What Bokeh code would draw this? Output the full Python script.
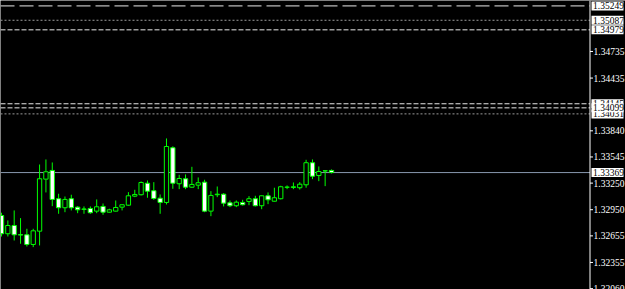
from bokeh.plotting import figure
from bokeh.models import Range1d, ColumnDataSource
from bokeh.core.properties import value
from bokeh.embed import file_html
from bokeh.resources import INLINE

# OHLC values (one entry per bar, oldest first)
opens = [1.32885, 1.32679, 1.32772, 1.32668, 1.32667, 1.32558, 1.32708, 1.33295, 1.33393, 1.33074,
         1.32972, 1.33074, 1.32979, 1.32958, 1.32964, 1.32934, 1.32987, 1.32922, 1.32934, 1.32979,
         1.33001, 1.33103, 1.33119, 1.33249, 1.33164, 1.33080, 1.33032, 1.33649, 1.33243, 1.33299,
         1.33204, 1.33227, 1.33261, 1.32934, 1.33119, 1.33125, 1.33028, 1.32995, 1.33032, 1.33043,
         1.33074, 1.32995, 1.33107, 1.33046, 1.33074, 1.33203, 1.33201, 1.33198, 1.33231, 1.33480,
         1.33336, 1.33389, 1.33393]
highs = [1.32916, 1.32829, 1.32942, 1.32855, 1.32735, 1.32735, 1.33460, 1.33517, 1.33483, 1.33130,
         1.33099, 1.33119, 1.32990, 1.32987, 1.32987, 1.33066, 1.33020, 1.32961, 1.33054, 1.33008,
         1.33148, 1.33175, 1.33269, 1.33280, 1.33261, 1.33122, 1.33754, 1.33665, 1.33344, 1.33348,
         1.33434, 1.33314, 1.33288, 1.33159, 1.33212, 1.33137, 1.33054, 1.33054, 1.33062, 1.33103,
         1.33107, 1.33110, 1.33145, 1.33198, 1.33220, 1.33224, 1.33257, 1.33261, 1.33513, 1.33517,
         1.33438, 1.33389, 1.33404]
lows = [1.32648, 1.32648, 1.32603, 1.32566, 1.32535, 1.32528, 1.32547, 1.33145, 1.32990, 1.32904,
        1.32922, 1.32942, 1.32911, 1.32904, 1.32904, 1.32911, 1.32893, 1.32919, 1.32930, 1.32942,
        1.32995, 1.33092, 1.33111, 1.33085, 1.33062, 1.32904, 1.33009, 1.33186, 1.33182, 1.33182,
        1.33198, 1.33182, 1.32922, 1.32877, 1.33092, 1.32987, 1.32979, 1.32979, 1.32998, 1.33001,
        1.32987, 1.32956, 1.33013, 1.33043, 1.33066, 1.33182, 1.33182, 1.33178, 1.33198, 1.33295,
        1.33272, 1.33216, 1.33359]
closes = [1.32679, 1.32772, 1.32667, 1.32665, 1.32558, 1.32712, 1.33299, 1.33378, 1.33066, 1.32972,
          1.33066, 1.32972, 1.32949, 1.32955, 1.32916, 1.32983, 1.32922, 1.32949, 1.32975, 1.33006,
          1.33107, 1.33122, 1.33257, 1.33159, 1.33077, 1.33032, 1.33663, 1.33249, 1.33302, 1.33204,
          1.33235, 1.33254, 1.32934, 1.33111, 1.33125, 1.33024, 1.32995, 1.33035, 1.33006, 1.33074,
          1.32995, 1.33107, 1.33062, 1.33085, 1.33209, 1.33205, 1.33209, 1.33238, 1.33480, 1.33328,
          1.33381, 1.33387, 1.33369]

bid_price = 1.33369
# horizontal levels, in drawing order (last one drawn on top)
level_prices = [1.35249, 1.35087, 1.34979, 1.34145, 1.34031, 1.34099]
level_styles = ["long", "dot", "dash", "dash", "dot", "dash"]
axis_ticks = [1.32060, 1.32355, 1.32655, 1.32950, 1.33250, 1.33545, 1.33840, 1.34435, 1.34735]
price_min, price_max = 1.32050, 1.35310

GREEN = "#00FF00"
FONT = value("Liberation Sans Narrow")
FONT_SIZE = "9.5px"
BAR_PX = 6.346          # pixels per bar
AXIS_PX = 589.5         # pixel column of the price axis line
PAGE_W, PAGE_H = 625, 289
x_start = -1.0 / BAR_PX
x_end = x_start + PAGE_W / BAR_PX
x_axis = x_start + AXIS_PX / BAR_PX
px = 1.0 / BAR_PX       # one pixel in x data units

n = len(opens)
src = ColumnDataSource(dict(
    x=list(range(n)),
    top=[max(o, c) for o, c in zip(opens, closes)],
    bottom=[min(o, c) for o, c in zip(opens, closes)],
    high=highs,
    low=lows,
    fill=["black" if c >= o else "white" for o, c in zip(opens, closes)],
))

p = figure(width=PAGE_W, height=PAGE_H, x_range=Range1d(x_start, x_end),
           y_range=Range1d(price_min, price_max),
           x_axis_location=None, y_axis_location=None,
           toolbar_location=None, output_backend="svg",
           background_fill_color="black", border_fill_color="black",
           outline_line_color=None, min_border=0)
p.grid.visible = False

style_map = {
    "long": ("#E8E8E8", "14 5"),
    "dot": ("#9A9A9A", "2 2"),
    "dash": ("#E8E8E8", "5 2"),
}
for price, st in zip(level_prices, level_styles):
    col, dash = style_map[st]
    p.line(x=[x_start, x_axis], y=[price, price], line_color=col, line_dash=dash, line_width=1)

p.line(x=[x_start, x_axis], y=[bid_price, bid_price], line_color="#8898AE", line_width=1)

# candles
p.segment(x0="x", y0="low", x1="x", y1="high", source=src, line_color=GREEN, line_width=1)
p.vbar(x="x", width=0.68, top="top", bottom="bottom", source=src,
       fill_color="fill", line_color=GREEN, line_width=1)

# price axis
p.segment(x0=[x_axis], y0=[price_min], x1=[x_axis], y1=[price_max], line_color="white", line_width=1)
p.segment(x0=[x_axis] * len(axis_ticks), y0=axis_ticks,
          x1=[x_axis + 3 * px] * len(axis_ticks), y1=axis_ticks, line_color="white", line_width=1)
p.text(x=[x_axis + 3.5 * px] * len(axis_ticks), y=axis_ticks,
       text=[f"{t:.5f}" for t in axis_ticks], text_color="white", text_font=FONT,
       text_font_size=FONT_SIZE, text_baseline="middle", text_align="left")

# boxed labels of the levels and the bid
for price in level_prices + [bid_price]:
    p.rect(x=[x_axis + 17.5 * px], y=[price], width=32, height=9,
           width_units="screen", height_units="screen",
           fill_color="white", line_color=None)
    p.text(x=[x_axis + 3 * px], y=[price], text=[f"{price:.5f}"], text_color="black",
           text_font=FONT, text_font_size=FONT_SIZE, text_baseline="middle", text_align="left")

open("out.html", "w").write(file_html(p, INLINE))
